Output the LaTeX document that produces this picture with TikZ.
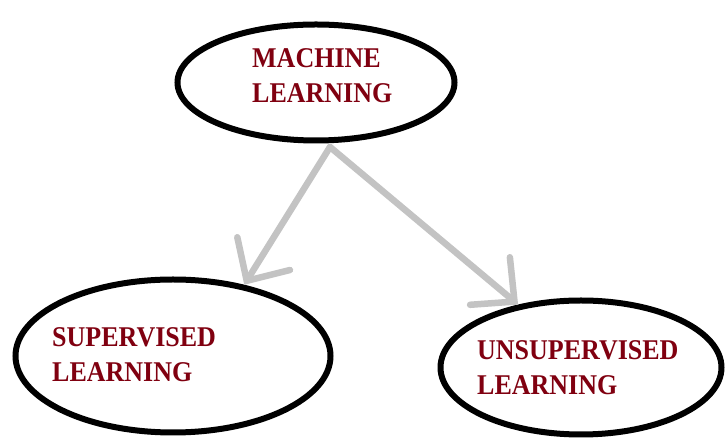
\documentclass[tikz,border=0pt]{standalone}
\usepackage{fontspec}
\setmainfont{Liberation Serif}
\usetikzlibrary{arrows.meta,shapes.geometric}
\definecolor{lblred}{RGB}{128,0,16}
\definecolor{arrgray}{RGB}{195,195,195}
\begin{document}
\begin{tikzpicture}[x=1pt,y=1pt,
  oval/.style={ellipse,draw=black,line width=6pt,inner sep=0pt,fill=white},
  lbl/.style={anchor=base west,inner sep=0pt,text=lblred,font=\fontsize{26}{30}\selectfont\bfseries},
  arr/.style={draw=arrgray,line width=6.5pt,line cap=round,
    -{Straight Barb[length=32pt,width=62pt,line cap=round]}}]
\useasboundingbox (0,0) rectangle (726,444);
\fill[white] (0,0) rectangle (726,444);
\node[oval,minimum width=277pt,minimum height=116pt] (ml) at (316,361.5) {};
\node[oval,minimum width=315pt,minimum height=153pt] (sup) at (173,88) {};
\node[oval,minimum width=281pt,minimum height=134pt] (unsup) at (581,76.5) {};
\node[lbl] (ml1) at (252,376) {\scalebox{1}[1.1]{MACHINE}};
\node[lbl] (ml2) at (252,341) {\scalebox{1}[1.1]{LEARNING}};
\node[lbl] (sup1) at (52,97) {\scalebox{1}[1.1]{SUPERVISED}};
\node[lbl] (sup2) at (52,62) {\scalebox{1}[1.1]{LEARNING}};
\node[lbl] (uns1) at (477,84) {\scalebox{1}[1.1]{UNSUPERVISED}};
\node[lbl] (uns2) at (477,49) {\scalebox{1}[1.1]{LEARNING}};
\coordinate (s) at (330,297);
\draw[arr] (s) -- (sup.45);
\draw[arr] (s) -- (unsup.135);
\end{tikzpicture}
\end{document}
